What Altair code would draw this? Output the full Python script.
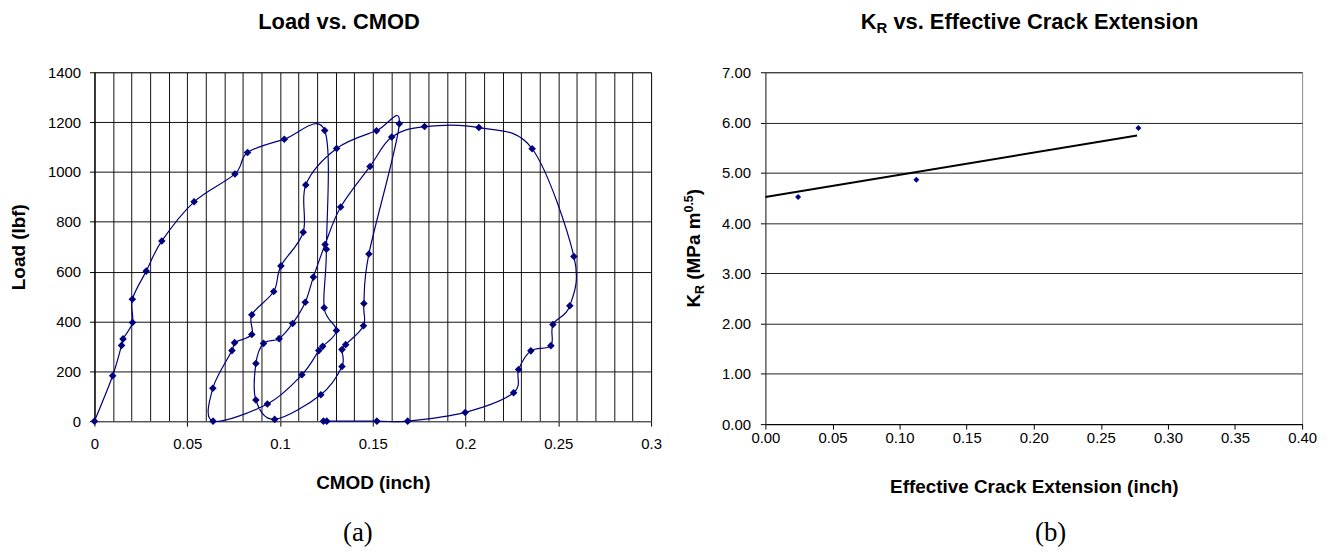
import altair as alt
import pandas as pd

FONT = "Liberation Sans"
NAVY = "#000080"

# ---------------- (a) Load vs. CMOD : ordered test record ----------------
cmod = [0.0, 0.0098, 0.0146, 0.0154, 0.0205, 0.0204, 0.0279, 0.0363, 0.0537, 0.0757,
        0.0825, 0.1023, 0.1241,
        0.1250, 0.1238, 0.1304, 0.1230, 0.1209, 0.1118, 0.0932, 0.0639,
        0.0638, 0.0741, 0.0755, 0.0848, 0.0848, 0.0966, 0.1005, 0.1125, 0.1139,
        0.1305, 0.1520, 0.1643,
        0.1479, 0.1452, 0.1450, 0.1354, 0.1334, 0.1334, 0.1220, 0.0971,
        0.0870, 0.0870, 0.0911, 0.0995, 0.1068, 0.1136, 0.1180, 0.1243, 0.1327,
        0.1485, 0.1602, 0.1779, 0.2072, 0.2359, 0.2584, 0.2562, 0.2471, 0.2460,
        0.2352, 0.2286, 0.2259, 0.1998, 0.1688, 0.1522, 0.1252, 0.1234]
load = [0, 182, 304, 330, 396, 489, 602, 723, 880, 992,
        1078, 1131, 1166,
        690, 455, 364, 300, 283, 186, 69, 0,
        132, 283, 315, 348, 427, 520, 623, 758, 948,
        1094, 1165, 1193,
        671, 472, 383, 307, 287, 219, 106, 7,
        85, 231, 312, 331, 392, 477, 578, 709, 859,
        1022, 1140, 1182, 1178, 1093, 661, 463, 388, 303,
        282, 207, 114, 35, 0, 0, 0, 0]

left_x_ticks = [round(i * 0.01, 2) for i in range(31)]
left_y_ticks = list(range(0, 1401, 200))

# ---------------- (b) KR vs. effective crack extension ----------------
ext = [0.0244, 0.1125, 0.278]
kr = [4.52, 4.86, 5.89]
trend_ext = [0.0, 0.277]
trend_kr = [4.52, 5.74]

right_x_ticks = [round(i * 0.05, 2) for i in range(9)]
right_y_ticks = list(range(0, 8))


def label(text, x, y, size, weight="bold", font=FONT, align="left", angle=0):
    kw = dict(font=font, fontSize=size, fontWeight=weight, align=align,
              baseline="alphabetic", color="#000")
    if angle:
        kw["angle"] = angle
    return alt.Chart(pd.DataFrame({"t": [text]})).mark_text(**kw).encode(
        text="t:N", x=alt.value(x), y=alt.value(y))


# ---------------- left panel ----------------
df1 = pd.DataFrame({"cmod": cmod, "load": load, "i": list(range(len(cmod)))})
test5 = "abs(round(datum.value*100) % 5) < 0.5"
x1 = alt.X("cmod:Q", scale=alt.Scale(domain=[0, 0.3], nice=False, zero=False),
           axis=alt.Axis(values=left_x_ticks, grid=True, gridColor="#111", gridWidth=1,
                         labelExpr=f"{test5} ? format(datum.value, '.2~f') : ''",
                         labelOverlap=False, labelFlush=False,
                         tickOpacity={"condition": {"test": test5, "value": 1}, "value": 0},
                         tickSize=5, labelPadding=11, domainColor="#555", domainWidth=1.5,
                         title="CMOD (inch)", titlePadding=22))
y1 = alt.Y("load:Q", scale=alt.Scale(domain=[0, 1400], nice=False),
           axis=alt.Axis(values=left_y_ticks, format="d", grid=True, gridColor="#111",
                         gridWidth=1, tickSize=5, labelPadding=9, domainColor="#000",
                         title="Load (lbf)", titlePadding=19))

base1 = alt.Chart(df1).encode(x=x1, y=y1, order="i:Q")
line1 = base1.mark_line(interpolate="cardinal", color=NAVY, strokeWidth=1.2)
pts1 = base1.mark_point(shape="diamond", filled=True, size=58, color=NAVY, opacity=1)

left = alt.layer(
    line1, pts1,
    label("Load vs. CMOD", 246, -44, 22, align="center"),
    label("(a)", 265, 472, 27, weight="normal", font="Liberation Serif", align="center"),
).properties(width=560, height=351)

# ---------------- right panel ----------------
df2 = pd.DataFrame({"x": ext, "y": kr})
df3 = pd.DataFrame({"x": trend_ext, "y": trend_kr})
x2 = alt.X("x:Q", scale=alt.Scale(domain=[0, 0.4], nice=False, zero=False),
           axis=alt.Axis(values=right_x_ticks, format=".2f", grid=False, tickSize=5,
                         labelPadding=2, labelFlush=False, labelOverlap=False,
                         domainColor="#000",
                         title="Effective Crack Extension (inch)", titlePadding=32))
y2 = alt.Y("y:Q", scale=alt.Scale(domain=[0, 7], nice=False),
           axis=alt.Axis(values=right_y_ticks, format=".2f", grid=True, gridColor="#222",
                         gridWidth=1, tickSize=5, labelPadding=10, domainColor="#444",
                         title=None))

trend = alt.Chart(df3).mark_line(color="#000", strokeWidth=2).encode(x=x2, y=y2)
pts2 = alt.Chart(df2).mark_point(shape="diamond", filled=True, size=36, color=NAVY,
                                 opacity=1).encode(x=x2, y=y2)

right = alt.layer(
    trend, pts2,
    # title  K_R vs. Effective Crack Extension
    label("K", 96, -44, 22),
    label("R", 111.9, -39, 15),
    label("vs. Effective Crack Extension", 128.8, -44, 22),
    # y title  K_R (MPa m^0.5)
    label("K", -66, 236.7, 19, angle=270),
    label("R", -62, 223.0, 12.5, angle=270),
    label("(MPa m", -66, 208.7, 19, angle=270),
    label("0.5", -73, 141.1, 12.5, angle=270),
    label(")", -66, 123.7, 19, angle=270),
    label("(b)", 287, 472, 27, weight="normal", font="Liberation Serif", align="center"),
).properties(width=540, height=354)

chart = alt.hconcat(left, right, spacing=20).properties(
    padding={"left": 1, "top": 0, "right": 5, "bottom": 0}
).configure_view(stroke="#888", strokeWidth=1).configure_axis(
    labelFont=FONT, labelFontSize=15, labelColor="#000",
    titleFont=FONT, titleFontSize=19, titleFontWeight="bold", titleColor="#000",
    tickColor="#000",
)

chart.save("out.html", embed_options={"renderer": "svg", "actions": False})
